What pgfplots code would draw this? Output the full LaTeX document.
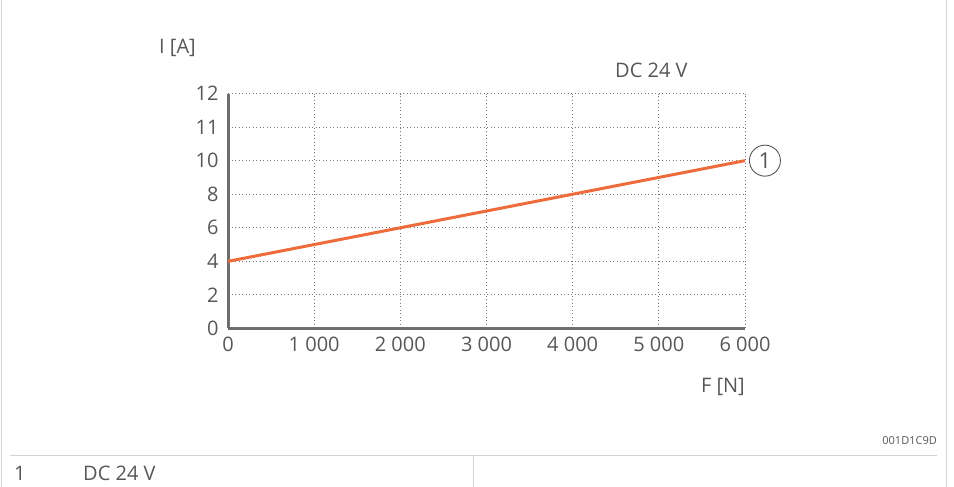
\documentclass[border=0pt]{standalone}
\usepackage{fontspec}
\setmainfont{Open Sans}
\usepackage{pgfplots}
\pgfplotsset{compat=1.18}
\definecolor{txt}{HTML}{575757}
\definecolor{axgray}{HTML}{6E6E6E}
\definecolor{gridgray}{HTML}{7A7A7A}
\definecolor{framegray}{HTML}{D2D2D2}
\definecolor{curve}{HTML}{EE6C3C}
\begin{document}
\begin{tikzpicture}
\path (0,0) rectangle (954bp,486bp);
% frame lines
\draw[framegray, line width=1bp] (1.5bp,0) -- (1.5bp,486bp);
\draw[framegray, line width=1bp] (946bp,0) -- (946bp,486bp);
\draw[framegray, line width=1bp] (10bp,31bp) -- (937bp,31bp);
\draw[framegray, line width=1bp] (473bp,0) -- (473bp,31bp);
\node[anchor=base west, inner sep=0pt, text=txt, font=\fontsize{20bp}{24bp}\selectfont] at (14bp,6bp) {1};
\node[anchor=base west, inner sep=0pt, text=txt, font=\fontsize{20bp}{24bp}\selectfont] at (83bp,6bp) {DC 24 V};
\node[anchor=base east, inner sep=0pt, text=txt, font=\fontsize{11bp}{13bp}\selectfont] at (937bp,42bp) {001D1C9D};
% labels
\node[anchor=base west, inner sep=0pt, text=txt, font=\fontsize{20bp}{24bp}\selectfont] at (159bp,433bp) {I [A]};
\node[anchor=base east, inner sep=0pt, text=txt, font=\fontsize{20bp}{24bp}\selectfont] at (745bp,94bp) {F [N]};
\node[anchor=base west, inner sep=0pt, text=txt, font=\fontsize{20bp}{24bp}\selectfont] at (615bp,409bp) {DC 24 V};
\begin{axis}[
  at={(228bp,158bp)}, anchor=south west,
  scale only axis, width=517bp, height=235bp,
  xmin=0, xmax=6000, ymin=0, ymax=12,
  y coord trafo/.code={\pgfmathparse{#1>10 ? #1-5 : #1/2}},
  xtick={0,1000,2000,3000,4000,5000,6000},
  xticklabels={0,1~000,2~000,3~000,4~000,5~000,6~000},
  ytick={0,2,4,6,8,10,11,12},
  yticklabels={0,2,4,6,8,10,11,12},
  major tick length=0pt,
  tick style={draw=none},
  ticklabel style={text=txt, font=\fontsize{20bp}{24bp}\selectfont},
  yticklabel style={xshift=-6bp},
  xticklabel style={yshift=-5bp},
  axis x line*=bottom, axis y line*=left,
  axis line style={-, draw=axgray, line width=3bp},
  x axis line style={-}, y axis line style={-},
  grid=major,
  major grid style={draw=gridgray, line width=1bp, dash pattern=on 1bp off 2.5bp},
  clip=false,
]
\addplot[draw=curve, line width=3bp] coordinates {(0,4) (6000,10)}
  node[pos=1, anchor=west, xshift=4bp, circle, draw=txt, line width=0.9bp, minimum size=31bp, inner sep=0pt, text=txt, font=\fontsize{22bp}{24bp}\selectfont] {1};
\end{axis}
\end{tikzpicture}
\end{document}
